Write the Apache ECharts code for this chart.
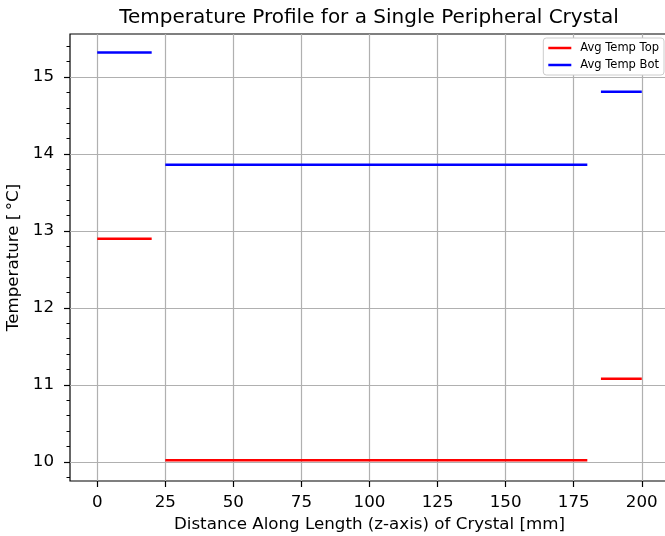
<!DOCTYPE html>
<html>
<head>
<meta charset="utf-8">
<script src="https://cdn.jsdelivr.net/npm/echarts@6/dist/echarts.min.js"></script>
<style>html,body{margin:0;padding:0;background:#fff;overflow:hidden;}#c{width:665px;height:536px;}</style>
</head>
<body>
<div id="c"></div>
<script>
// Segment extents along z (mm)
const segStartX = [0, 25, 185];
const segEndX = [20, 180, 200];
// Average temperatures per segment (°C)
const avgTempTop = [12.90, 10.02, 11.08];
const avgTempBot = [15.32, 13.86, 14.81];
// Tick values
const xTickValues = [0, 25, 50, 75, 100, 125, 150, 175, 200];
const yTickValues = [10, 11, 12, 13, 14, 15];
const yMinorTickValues = [9.8, 10.2, 10.4, 10.6, 10.8, 11.2, 11.4, 11.6, 11.8, 12.2, 12.4, 12.6, 12.8,
  13.2, 13.4, 13.6, 13.8, 14.2, 14.4, 14.6, 14.8, 15.2, 15.4];

const FONT = 'DejaVu Sans';
const series = [];
function addSegs(name, color, vals) {
  for (let i = 0; i < vals.length; i++) {
    series.push({
      name: name, type: 'line', symbol: 'none', silent: true, animation: false,
      xAxisIndex: 0, yAxisIndex: 0,
      lineStyle: {color: color, width: 2.5}, itemStyle: {color: color},
      data: [[segStartX[i], vals[i]], [segEndX[i], vals[i]]]
    });
  }
}
addSegs('Avg Temp Top', '#ff0000', avgTempTop);
addSegs('Avg Temp Bot', '#0000ff', avgTempBot);

const chart = echarts.init(document.getElementById('c'), null, {renderer: 'canvas'});
chart.setOption({
  animation: false,
  backgroundColor: '#ffffff',
  title: {
    text: 'Temperature Profile for a Single Peripheral Crystal',
    left: 364, top: 3, textAlign: 'center',
    textStyle: {fontFamily: FONT, fontSize: 20, fontWeight: 'normal', color: '#000'}
  },
  legend: {
    orient: 'vertical', right: 1, top: 38,
    backgroundColor: '#fff', borderColor: '#cccccc', borderWidth: 1, borderRadius: 3,
    padding: [4, 5, 4, 5], itemGap: 5, itemWidth: 23, itemHeight: 2.5,
    icon: 'rect',
    textStyle: {fontFamily: FONT, fontSize: 11.5, color: '#000', padding: [0, 0, 0, 4]},
    data: ['Avg Temp Top', 'Avg Temp Bot']
  },
  grid: {
    left: 70, top: 34, width: 599, height: 447,
    outerBoundsMode: 'none', containLabel: false,
    show: true, borderColor: '#000', borderWidth: 1.2, backgroundColor: 'transparent'
  },
  xAxis: [{
    type: 'value', min: -10, max: 210,
    name: 'Distance Along Length (z-axis) of Crystal [mm]',
    nameLocation: 'middle', nameGap: 34,
    nameTextStyle: {fontFamily: FONT, fontSize: 16.7, color: '#000'},
    axisLine: {show: false, onZero: false},
    axisTick: {show: true, length: 6, inside: false, customValues: xTickValues, lineStyle: {color: '#000', width: 1.2}},
    axisLabel: {customValues: xTickValues, fontFamily: FONT, fontSize: 16.7, color: '#000', margin: 13},
    splitLine: {show: true, lineStyle: {color: '#b0b0b0', width: 1.2}}
  }],
  yAxis: [{
    type: 'value', min: 9.75, max: 15.56,
    name: 'Temperature [\u2009°C]',
    nameLocation: 'middle', nameGap: 43, nameRotate: 90,
    nameTextStyle: {fontFamily: FONT, fontSize: 16.7, color: '#000'},
    axisLine: {show: false, onZero: false},
    axisTick: {show: true, length: 6, customValues: yTickValues, lineStyle: {color: '#000', width: 1.2}},
    axisLabel: {customValues: yTickValues, fontFamily: FONT, fontSize: 16.7, color: '#000', margin: 16},
    splitLine: {show: true, lineStyle: {color: '#b0b0b0', width: 1.2}}
  }, {
    type: 'value', min: 9.75, max: 15.56, position: 'left',
    axisLine: {show: false, onZero: false},
    axisTick: {show: true, length: 3.5, customValues: yMinorTickValues, lineStyle: {color: '#000', width: 1}},
    axisLabel: {show: false},
    splitLine: {show: false}
  }],
  series: series
});
</script>
</body>
</html>
